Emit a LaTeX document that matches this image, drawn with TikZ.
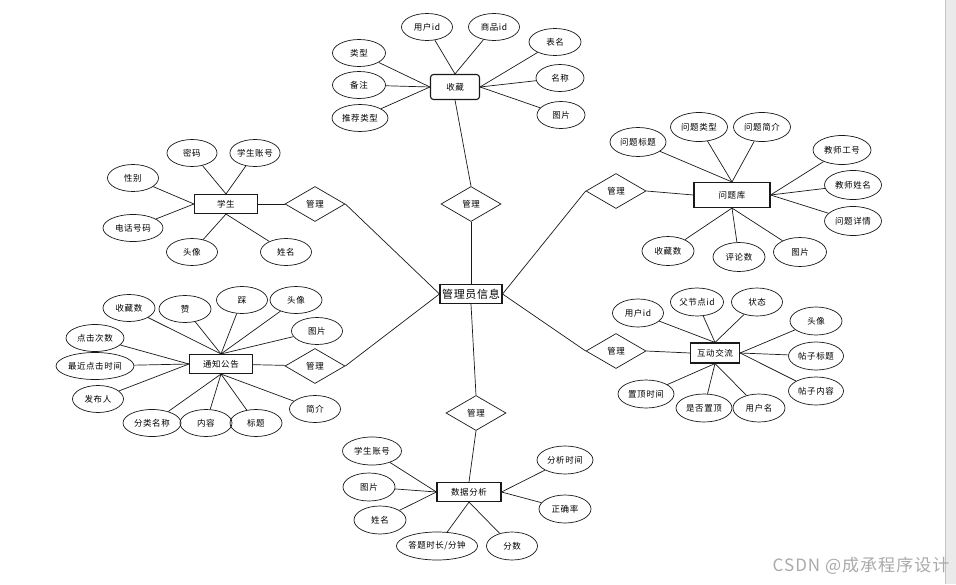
\documentclass[tikz,border=0pt]{standalone}
\usepackage{fontspec}
\setmainfont{Noto Sans CJK SC}[LetterSpace=6]
\usepackage{tikz}
\usetikzlibrary{shapes.geometric}
\definecolor{myline}{RGB}{25,25,25}
\definecolor{mygray}{RGB}{234,234,234}
\definecolor{myedge}{RGB}{195,195,195}
\definecolor{mymark}{RGB}{170,170,170}

\begin{document}
\begin{tikzpicture}[x=1pt, y=-1pt, font=\fontsize{8.5}{10}\selectfont,
  entity/.style={draw=myline, line width=1.1pt, minimum height=19, inner sep=1pt},
  attr/.style={draw=myline, ellipse, line width=0.7pt, minimum width=51, minimum height=27, inner sep=0pt},
  relation/.style={draw=myline, diamond, line width=0.7pt, minimum width=60, minimum height=35, inner sep=0pt},
  link/.style={myline, line width=0.7pt}]
  \fill[white] (0,0) rectangle (956,584);
  \useasboundingbox (0,0) rectangle (956,584);
  % Right page edge
  \fill[mygray] (945,0) rectangle (956,584);
  \draw[myedge, line width=1pt] (945,0) -- (945,584);

  % Centre entity
  \node[entity, minimum width=62, font=\fontsize{11}{12}\selectfont] (admin) at (471,294) {管理员信息};

  % Collection
  \node[entity, rounded corners=3pt, minimum width=49, minimum height=25] (fav) at (455,87) {收藏};
  \foreach \n/\x/\y/\w/\t in {favUid/427/27/51/用户id, favGid/494/27/51/商品id, favTab/555/42/52/表名,
      favType/359/53/53/类型, favNote/359/85/53/备注, favRec/360/118/56/推荐类型,
      favName/560/78/48/名称, favPic/561/115/48/图片}
    \node[attr, minimum width=\w] (\n) at (\x,\y) {\t};
  \foreach \n/\a in {favUid/north, favGid/north, favType/west, favNote/west, favRec/west,
      favTab/east, favName/east, favPic/east}
    \draw[link] (\n) -- (fav.\a);
  \node[relation] (mgFav) at (471,204) {管理};
  \draw[link] (fav.south) -- (mgFav.north);
  \draw[link] (mgFav.south) -- (admin.north);

  % Student
  \node[entity, minimum width=63] (stu) at (226,204) {学生};
  \foreach \n/\x/\y/\w/\t in {stuPwd/192/153/50/密码, stuNo/255/153/50/学生账号, stuSex/133/178/51/性别,
      stuTel/133/228/60/电话号码, stuHead/192/252/51/头像, stuName/286/252/51/姓名}
    \node[attr, minimum width=\w] (\n) at (\x,\y) {\t};
  \foreach \n/\a in {stuPwd/north, stuNo/north, stuSex/west, stuTel/west, stuHead/south, stuName/south}
    \draw[link] (\n) -- (stu.\a);
  \node[relation] (mgStu) at (315,204) {管理};
  \draw[link] (stu) -- (mgStu);
  \draw[link] (mgStu.east) -- (admin.west);

  % Notice
  \node[entity, minimum width=63] (notice) at (221,364) {通知公告};
  \foreach \n/\x/\y/\w/\t in {ntFav/129/308/52/收藏数, ntLike/185/309/52/赞, ntDis/242/300/51/踩,
      ntHead/296/300/52/头像, ntPic/317/331/51/图片, ntClick/95/338/58/点击次数,
      ntLast/95/366/78/最近点击时间, ntAuthor/98/399/51/发布人, ntCat/152/423/58/分类名称,
      ntText/206/423/52/内容, ntTitle/256/423/52/标题, ntIntro/315/409/51/简介}
    \node[attr, minimum width=\w] (\n) at (\x,\y) {\t};
  \foreach \n/\a in {ntFav/north, ntLike/north, ntDis/north, ntHead/north, ntPic/north,
      ntClick/west, ntLast/west, ntAuthor/west,
      ntCat/south, ntText/south, ntTitle/south, ntIntro/south}
    \draw[link] (\n) -- (notice.\a);
  \node[relation] (mgNotice) at (315,366) {管理};
  \draw[link] (notice) -- (mgNotice);
  \draw[link] (mgNotice.east) -- (admin.west);

  % Question bank
  \node[entity, minimum width=76, minimum height=25] (qbank) at (732,195) {问题库};
  \foreach \n/\x/\y/\w/\t in {qbTitle/638/142/56/问题标题, qbType/699/127/57/问题类型, qbIntro/762/127/57/问题简介,
      qbTno/842/150/58/教师工号, qbTname/853/185/57/教师姓名, qbDetail/853/221/57/问题详情,
      qbFav/668/251/52/收藏数, qbCmt/739/257/52/评论数, qbPic/800/252/53/图片}
    \node[attr, minimum width=\w, minimum height=29] (\n) at (\x,\y) {\t};
  \foreach \n/\a in {qbTitle/north, qbType/north, qbIntro/north, qbTno/east, qbTname/east, qbDetail/east,
      qbFav/south, qbCmt/south, qbPic/south}
    \draw[link] (\n) -- (qbank.\a);
  \node[relation] (mgQbank) at (616,191) {管理};
  \draw[link] (mgQbank.east) -- (qbank.west);
  \draw[link] (mgQbank.west) -- (admin.east);

  % Forum
  \node[entity, minimum width=49, minimum height=20] (forum) at (715,353) {互动交流};
  \foreach \n/\x/\y/\w/\t in {fmUid/638/313/51/用户id, fmPid/697/302/53/父节点id, fmState/757/302/51/状态,
      fmHead/816/321/52/头像, fmTitle/816/356/55/帖子标题, fmBody/816/391/55/帖子内容,
      fmTopT/646/394/56/置顶时间, fmTop/704/408/56/是否置顶, fmUname/759/408/52/用户名}
    \node[attr, minimum width=\w, minimum height=28] (\n) at (\x,\y) {\t};
  \foreach \n/\a in {fmUid/north, fmPid/north, fmState/north, fmHead/east, fmTitle/east, fmBody/east,
      fmTopT/south, fmTop/south, fmUname/south}
    \draw[link] (\n) -- (forum.\a);
  \node[relation] (mgForum) at (616,351) {管理};
  \draw[link] (mgForum.east) -- (forum.west);
  \draw[link] (mgForum.west) -- (admin.east);

  % Statistics
  \node[entity, minimum width=64] (stats) at (469,492) {数据分析};
  \foreach \n/\x/\y/\w/\t in {stNo/372/451/59/学生账号, stPic/369/487/52/图片, stName/380/520/52/姓名,
      stScore/512/546/51/分数, stAt/565/460/56/分析时间, stRate/565/509/52/正确率}
    \node[attr, minimum width=\w, minimum height=28] (\n) at (\x,\y) {\t};
  \node[attr, minimum width=71, minimum height=28] (stTime) at (437,546) {答题时长/分钟};
  \foreach \n/\a in {stNo/west, stPic/west, stName/west, stTime/south, stScore/south, stAt/east, stRate/east}
    \draw[link] (\n) -- (stats.\a);
  \node[relation] (mgStats) at (476,413) {管理};
  \draw[link] (admin.south) -- (mgStats.north);
  \draw[link] (mgStats.south) -- (stats.north);

  % Watermark
  \node[text=mymark, font=\fontsize{17}{18}\selectfont, inner sep=0pt] (mark) at (861,566) {CSDN @成承程序设计};
\end{tikzpicture}
\end{document}
